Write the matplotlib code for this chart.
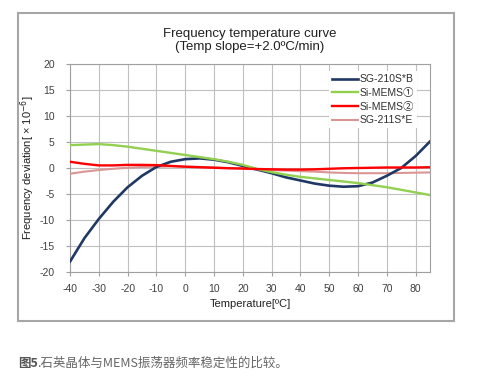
import matplotlib
matplotlib.use("Agg")
import matplotlib.pyplot as plt
from matplotlib.patches import Rectangle

plt.rcParams['font.family'] = ['Liberation Sans', 'Noto Sans CJK SC', 'DejaVu Sans']
plt.rcParams['axes.unicode_minus'] = False

temps = [-40, -35, -30, -25, -20, -15, -10, -5, 0, 5, 10, 15, 20,
         25, 30, 35, 40, 45, 50, 55, 60, 65, 70, 75, 80, 85]

sg210 = [-18.0, -13.5, -9.8, -6.5, -3.7, -1.5, 0.2, 1.2, 1.7, 1.85, 1.6, 1.1, 0.4,
         -0.3, -1.0, -1.8, -2.4, -3.0, -3.4, -3.6, -3.5, -2.8, -1.5, 0.0, 2.3, 5.1]
mems1 = [4.4, 4.5, 4.6, 4.4, 4.1, 3.7, 3.3, 2.9, 2.5, 2.1, 1.7, 1.2, 0.6,
         -0.2, -0.8, -1.3, -1.7, -2.0, -2.3, -2.6, -2.9, -3.3, -3.7, -4.2, -4.7, -5.2]
mems2 = [1.2, 0.8, 0.5, 0.5, 0.6, 0.6, 0.55, 0.4, 0.25, 0.15, 0.05, -0.05, -0.1,
         -0.2, -0.25, -0.3, -0.3, -0.25, -0.15, -0.05, 0.0, 0.05, 0.1, 0.1, 0.1, 0.15]
sg211 = [-1.1, -0.7, -0.4, -0.15, 0.05, 0.2, 0.25, 0.3, 0.25, 0.2, 0.1, 0.0, -0.1,
         -0.25, -0.4, -0.5, -0.6, -0.7, -0.85, -0.95, -1.0, -1.0, -1.0, -0.95, -0.9, -0.85]

labels = ['SG-210S*B', 'Si-MEMS①', 'Si-MEMS②', 'SG-211S*E']
colors = ['#1f3864', '#92d050', '#ff0000', '#d99694']

fig = plt.figure(figsize=(4.88, 3.91), dpi=100)
W, H = 488, 391

# outer gray frame
fig.patches.append(Rectangle((18 / W, 1 - 321 / H), 436 / W, 308 / H,
                             transform=fig.transFigure, fill=False,
                             edgecolor='#a6a6a6', linewidth=1.5))

ax = fig.add_axes([70 / W, 1 - 272 / H, 360 / W, 208 / H])

l4, = ax.plot(temps, sg211, color=colors[3], lw=1.5, zorder=3)
l1, = ax.plot(temps, sg210, color=colors[0], lw=1.9, zorder=4)
l2, = ax.plot(temps, mems1, color=colors[1], lw=1.7, zorder=5)
l3, = ax.plot(temps, mems2, color=colors[2], lw=1.7, zorder=6)

ax.set_xlim(-40, 85)
ax.set_ylim(-20, 20)
ax.set_xticks(range(-40, 81, 10))
ax.set_yticks(range(-20, 21, 5))
ax.grid(True, color='#c0c0c0', lw=0.8)
ax.set_axisbelow(True)
for s in ax.spines.values():
    s.set_color('#a0a0a0')
    s.set_linewidth(0.8)
ax.tick_params(labelsize=7.5, colors='#a0a0a0', labelcolor='#404040', length=3, width=0.8)
ax.tick_params(axis='x', pad=6)
ax.tick_params(axis='y', pad=8)

ax.set_xlabel('Temperature[ºC]', fontsize=8, color='#202020', labelpad=3)
ax.set_ylabel('Frequency deviation[ × 10$^{-6}$]', fontsize=8, color='#202020', labelpad=2)

ax.set_title('Frequency temperature curve\n(Temp slope=+2.0ºC/min)',
             fontsize=9.5, color='#202020', pad=10, linespacing=1.1)

leg = ax.legend([l1, l2, l3, l4], labels, loc='upper right',
                bbox_to_anchor=(0.965, 0.965), borderaxespad=0, fontsize=7.5,
                frameon=True, framealpha=1, edgecolor='none', fancybox=False,
                handlelength=2.5, handletextpad=0.2, labelspacing=0.35, borderpad=0.3)
for t in leg.get_texts():
    t.set_color('#303030')

fig.text(18 / W, 1 - 363 / H, '图5', fontsize=9, color='#555555',
         weight='bold', va='center', ha='left',
         family=['Noto Sans CJK SC', 'DejaVu Sans'])
fig.text(37 / W, 1 - 363 / H, '.石英晶体与MEMS振荡器频率稳定性的比较。',
         fontsize=9, color='#666666', va='center', ha='left',
         family=['Noto Sans CJK SC', 'DejaVu Sans'])

fig.savefig('out.png', dpi=100, facecolor='white')
